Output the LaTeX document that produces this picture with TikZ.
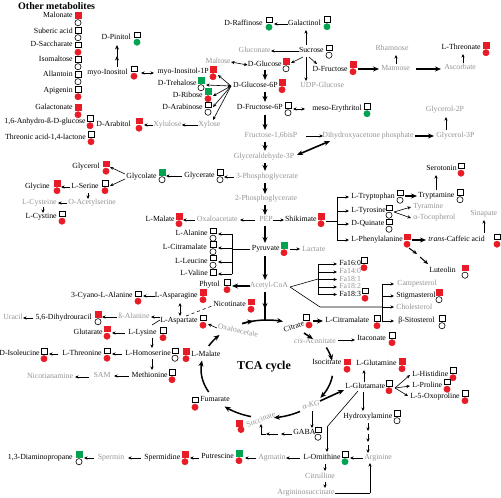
\documentclass[tikz,border=0pt]{standalone}
\usepackage{fontspec}
\setmainfont{Liberation Serif}
\usetikzlibrary{arrows.meta}
\definecolor{mred}{RGB}{232,28,38}
\definecolor{mgreen}{RGB}{0,163,80}
\definecolor{tgrey}{RGB}{150,150,150}
\tikzset{
 lbl/.style={font=\fontsize{7.8}{9}\selectfont, inner sep=0.3pt, outer sep=0pt, text height=5.4pt, text depth=1.6pt},
 gl/.style={lbl, text=tgrey},
 sqm/.style={draw=black, line width=0.6pt, minimum size=5.8pt, inner sep=0pt, outer sep=0pt, fill=white},
 cim/.style={circle, draw=black, line width=0.6pt, minimum size=6.2pt, inner sep=0pt, outer sep=0pt, fill=white},
 mo/.style={},
 mr/.style={fill=mred, draw=mred},
 mg/.style={fill=mgreen, draw=mgreen},
 ar/.style={-{Stealth[length=3.6pt,width=3.2pt]}, line width=0.6pt},
 ab/.style={{Stealth[length=3.6pt,width=3.2pt]}-{Stealth[length=3.6pt,width=3.2pt]}, line width=0.6pt},
 am/.style={-{Stealth[length=4.5pt,width=4pt]}, line width=1pt},
 tk/.style={-{Stealth[length=6pt,width=5pt]}, line width=1.6pt},
 tkb/.style={{Stealth[length=6pt,width=5pt]}-{Stealth[length=6pt,width=5pt]}, line width=1.6pt},
 tk0/.style={line width=1.6pt},
 ln/.style={line width=0.6pt},
 cyca/.style={line width=1.5pt, -{Stealth[length=6pt,width=5pt]}},
}
\newcommand\mtx[5]{\node[lbl,anchor=#4] (#1) at (#2,#3) {#5};}
\newcommand\mgx[5]{\node[gl,anchor=#4] (#1) at (#2,#3) {#5};}
\newcommand\mmk[5]{\node[sqm,#4] (#1s) at (#2,#3-3.7) {}; \node[cim,#5] (#1c) at (#2,#3+3.7) {};}
\begin{document}
\begin{tikzpicture}[x=1pt,y=-1pt]
\useasboundingbox[fill=white] (0,0) rectangle (501,498);

% ---------- Other metabolites ----------
\node[font=\fontsize{10}{12}\selectfont\bfseries, anchor=west, inner sep=0pt] (om) at (18,6.5) {Other metabolites};
\mtx{malonate}{73}{16}{east}{Malonate} \mmk{malonate}{78}{19}{mr}{mo}
\mtx{suberic}{73}{32}{east}{Suberic acid} \mmk{suberic}{78}{34}{mo}{mo}
\mtx{saccharate}{73}{45}{east}{D-Saccharate} \mmk{saccharate}{78}{48.5}{mo}{mr}
\mtx{isomaltose}{73}{60}{east}{Isomaltose} \mmk{isomaltose}{78}{63}{mo}{mo}
\mtx{allantoin}{73}{75}{east}{Allantoin} \mmk{allantoin}{78}{78}{mo}{mo}
\mtx{apigenin}{73}{91}{east}{Apigenin} \mmk{apigenin}{78}{93}{mo}{mr}
\mtx{galactonate}{73}{108}{east}{Galactonate} \mmk{galactonate}{78}{111}{mr}{mr}
\mtx{anhydro}{86}{122}{east}{1,6-Anhydro-ß-D-glucose} \mmk{anhydro}{90}{122}{mo}{mr}
\mtx{threonic}{86}{138}{east}{Threonic acid-1,4-lactone} \mmk{threonic}{91}{138}{mo}{mr}

% ---------- sugars ----------
\mtx{pinitol}{131}{38}{east}{D-Pinitol} \mmk{pinitol}{137}{38.5}{mo}{mg}
\mtx{myoino}{128}{73}{east}{myo-Inositol} \mmk{myoino}{134}{72.5}{mo}{mr}
\mtx{myoip}{209}{72}{east}{myo-Inositol-1P} \mmk{myoip}{213}{73}{mr}{mr}
\mtx{trehalose}{197}{84}{east}{D-Trehalose} \mmk{trehalose}{201}{84}{mg}{mo}
\mtx{ribose}{203}{96}{east}{D-Ribose} \mmk{ribose}{208}{95}{mg}{mr}
\mtx{arabinose}{203}{108}{east}{D-Arabinose} \mmk{arabinose}{208}{108.5}{mo}{mo}
\mtx{arabitol}{131}{125}{east}{D-Arabitol} \mmk{arabitol}{139}{124.5}{mr}{mr}
\mgx{xylulose}{153}{125}{west}{Xylulose}
\mgx{xylose}{198}{125}{west}{Xylose}
\mtx{raffinose}{263}{24}{east}{D-Raffinose} \mmk{raffinose}{269}{23.5}{mo}{mg}
\mtx{galactinol}{321}{24}{east}{Galactinol} \mmk{galactinol}{327}{23}{mo}{mg}
\mtx{sucrose}{324}{51}{east}{Sucrose} \mmk{sucrose}{329}{51.5}{mo}{mo}
\mgx{gluconate}{271}{51}{east}{Gluconate}
\mgx{maltose}{231}{62}{east}{Maltose}
\mtx{glucose}{282}{65}{east}{D-Glucose} \mmk{glucose}{286}{65}{mr}{mo}
\mtx{fructose}{348}{70}{east}{D-Fructose} \mmk{fructose}{353}{68}{mr}{mr}
\mgx{udpglc}{300}{86}{west}{UDP-Glucose}
\mtx{gsixp}{278}{86}{east}{D-Glucose-6P} \mmk{gsixp}{282}{86}{mr}{mr}
\mtx{fsixp}{283}{108}{east}{D-Fructose-6P} \mmk{fsixp}{288}{109}{mo}{mo}
\mtx{erythritol}{362}{109}{east}{meso-Erythritol} \mmk{erythritol}{367}{110}{mo}{mg}
\mgx{rhamnose}{392}{49}{center}{Rhamnose}
\mgx{mannose}{381}{69}{west}{Mannose}
\mgx{ascorbate}{444}{68}{west}{Ascorbate}
\mtx{threonate}{481}{48}{east}{L-Threonate} \mmk{threonate}{486}{49}{mr}{mr}
\mgx{fbp}{271}{136}{center}{Fructose-1,6bisP}
\mgx{dhap}{368}{136}{center}{Dihydroxyacetone phosphate}
\mgx{glythree}{436}{136}{west}{Glycerol-3P}
\mgx{glytwo}{445}{110}{center}{Glycerol-2P}
\mgx{gap}{264}{157}{center}{Glyceraldehyde-3P}
\mgx{pgthree}{267}{177}{center}{3-Phosphoglycerate}
\mgx{pgtwo}{266}{199}{center}{2-Phosphoglycerate}
\mgx{pep}{266}{220}{center}{PEP}

% ---------- serine area ----------
\mtx{glycerate}{215}{176}{east}{Glycerate} \mmk{glycerate}{220}{176}{mo}{mo}
\mtx{glycolate}{157}{177}{east}{Glycolate} \mmk{glycolate}{162}{176}{mg}{mo}
\mtx{glycerol}{100}{167}{east}{Glycerol} \mmk{glycerol}{106}{167.5}{mr}{mr}
\mtx{serine}{99}{187}{east}{L-Serine} \mmk{serine}{105}{187}{mo}{mr}
\mtx{glycine}{50}{187}{east}{Glycine} \mmk{glycine}{57}{187}{mr}{mr}
\mgx{oas}{68}{203}{west}{O-Acetylserine}
\mgx{cysteine}{57}{203}{east}{L-Cysteine}
\mtx{cystine}{57}{217}{east}{L-Cystine} \mmk{cystine}{62}{217.5}{mo}{mr}

% ---------- PEP / pyruvate ----------
\mgx{oaa}{238}{220}{east}{Oxaloacetate}
\mtx{malate}{175}{220}{east}{L-Malate} \mmk{malate}{179}{220}{mr}{mr}
\mtx{shikimate}{317}{220}{east}{Shikimate} \mmk{shikimate}{321}{220}{mr}{mr}
\mtx{pyruvate}{280}{249}{east}{Pyruvate} \mmk{pyruvate}{284}{249}{mg}{mr}
\mgx{lactate}{302}{250}{west}{Lactate}
\mtx{alanine}{208}{234}{east}{L-Alanine} \mmk{alanine}{213}{234.5}{mo}{mo}
\mtx{citramalate}{207}{248}{east}{L-Citramalate} \mmk{citramalate}{213}{248}{mo}{mo}
\mtx{leucine}{208}{262}{east}{L-Leucine} \mmk{leucine}{213}{261.5}{mo}{mo}
\mtx{valine}{208}{274}{east}{L-Valine} \node[sqm] (valines) at (213,272) {};
\mtx{phytol}{220}{285}{east}{Phytol} \mmk{phytol}{227}{286}{mo}{mr}
\mgx{acoa}{269}{286}{center}{Acetyl-CoA}

% ---------- fatty acids, sterols ----------
\mtx{fasixteen}{339}{264}{west}{Fa16:0} \mmk{fasixteen}{364}{264}{mo}{mr}
\mgx{fafourteen}{339}{272}{west}{Fa14:0}
\mgx{faeightone}{339}{279.5}{west}{Fa18:1}
\mgx{faeighttwo}{339}{287}{west}{Fa18:2}
\mtx{faeightthree}{339}{294.5}{west}{Fa18:3} \mmk{faeightthree}{365}{294.5}{mo}{mr}
\mgx{campesterol}{397}{284}{west}{Campesterol}
\mtx{stigmasterol}{396}{296}{west}{Stigmasterol} \mmk{stigmasterol}{439}{296}{mr}{mo}
\mgx{cholesterol}{396}{308}{west}{Cholesterol}
\mtx{sitosterol}{398}{321}{west}{β-Sitosterol} \mmk{sitosterol}{442}{322}{mo}{mo}
\mtx{citramalateb}{325}{321}{west}{L-Citramalate} \mmk{citramalateb}{377}{322}{mo}{mr}

% ---------- aromatic ----------
\mtx{serotonin}{457}{169}{east}{Serotonin} \mmk{serotonin}{461}{169.5}{mo}{mr}
\mtx{trp}{351}{197}{west}{L-Tryptophan} \mmk{trp}{400}{196.5}{mo}{mo}
\mtx{tryptamine}{418}{196}{west}{Tryptamine} \mmk{tryptamine}{460}{196}{mo}{mo}
\mtx{tyr}{351}{211}{west}{L-Tyrosine} \mmk{tyr}{389}{211.5}{mo}{mo}
\mgx{tyramine}{413}{207}{west}{Tyramine}
\mgx{tocopherol}{413}{218}{west}{α-Tocopherol}
\mtx{quinate}{351}{224}{west}{D-Quinate} \mmk{quinate}{389}{225.5}{mo}{mo}
\mtx{phe}{351}{240}{west}{L-Phenylalanine} \mmk{phe}{407}{240.5}{mr}{mr}
\mtx{caffeic}{428}{240}{west}{\textit{trans}-Caffeic acid} \mmk{caffeic}{497}{240.5}{mo}{mr}
\mgx{sinapate}{470}{214}{west}{Sinapate}
\mtx{luteolin}{429}{271}{west}{Luteolin} \mmk{luteolin}{465}{271.5}{mr}{mo}

% ---------- aspartate family ----------
\mtx{cyano}{133}{296}{east}{3-Cyano-L-Alanine} \mmk{cyano}{138}{297.5}{mo}{mr}
\mtx{asparagine}{198}{296}{east}{L-Asparagine} \mmk{asparagine}{203}{296}{mr}{mr}
\mtx{aspartate}{198}{321}{east}{L-Aspartate} \mmk{aspartate}{203}{321.5}{mo}{mr}
\mtx{nicotinate}{213}{305}{west}{Nicotinate} \mmk{nicotinate}{251}{305.5}{mr}{mr}
\mgx{balanine}{118}{317}{west}{ß-Alanine}
\mtx{dhu}{92}{318}{east}{5,6-Dihydrouracil} \mmk{dhu}{98}{318}{mr}{mo}
\mgx{uracil}{3}{318}{west}{Uracil}
\mtx{glutarate}{103}{333}{east}{Glutarate} \mmk{glutarate}{107}{332.5}{mr}{mr}
\mtx{lysine}{128}{333}{west}{L-Lysine} \mmk{lysine}{163}{334}{mo}{mr}
\mtx{homoserine}{125}{354}{west}{L-Homoserine} \mmk{homoserine}{175}{354.5}{mo}{mo}
\mtx{threonine}{102}{354}{east}{L-Threonine} \mmk{threonine}{107}{354.5}{mo}{mr}
\mtx{isoleucine}{40}{354}{east}{D-Isoleucine} \mmk{isoleucine}{44}{355}{mo}{mr}
\mtx{methionine}{168}{376}{east}{Methionine} \mmk{methionine}{172}{376}{mo}{mr}
\mgx{sam}{102}{376}{center}{SAM}
\mgx{nicotianamine}{50}{377}{center}{Nicotianamine}

% ---------- TCA cycle ----------
\node[gl, rotate=-12] (oaab) at (238,331) {Oxaloacetate};
\node[lbl, rotate=20] (citrate) at (294,327) {Citrate};
\node[sqm] (citrates) at (306,317) {}; \node[cim,mr] (citratec) at (309,325) {};
\node[gl] (cisacon) at (315,342) {\textit{cis}-Aconitate};
\mtx{itaconate}{357}{339}{west}{Itaconate} \mmk{itaconate}{392}{339}{mo}{mr}
\mtx{isocitrate}{312}{363}{west}{Isocitrate} \mmk{isocitrate}{347}{365.5}{mr}{mr}
\mtx{glutamine}{356}{364}{west}{L-Glutamine} \mmk{glutamine}{402}{365}{mr}{mr}
\mtx{glutamate}{345}{387}{west}{L-Glutamate} \mmk{glutamate}{389}{387}{mo}{mr}
\mtx{histidine}{412}{375}{west}{L-Histidine} \mmk{histidine}{453}{374}{mo}{mr}
\mtx{proline}{412}{386}{west}{L-Proline} \mmk{proline}{447}{385.5}{mo}{mr}
\mtx{oxoproline}{410}{397}{west}{L-5-Oxoproline} \mmk{oxoproline}{465}{397}{mo}{mr}
\node[gl, rotate=15] (akg) at (311,405) {α-\textit{KG}};
\mtx{hydroxylamine}{343}{417}{west}{Hydroxylamine} \mmk{hydroxylamine}{397}{417}{mo}{mo}
\node[gl, rotate=22] (succinate) at (261,420) {Succinate};
\node[sqm,mr] (succinates) at (239,423) {}; \node[cim,mr] (succinatec) at (241,429.5) {};
\mtx{fumarate}{200}{400}{west}{Fumarate} \mmk{fumarate}{195}{403.5}{mo}{mr}
\mtx{malateb}{191}{355}{west}{L-Malate} \mmk{malateb}{186}{355}{mr}{mr}
\mtx{gaba}{293}{433}{west}{GABA} \mmk{gaba}{318}{433.5}{mo}{mo}
\node[font=\fontsize{12}{14}\selectfont\bfseries, inner sep=0pt] (tca) at (264,367) {TCA cycle};

% ---------- polyamines ----------
\mtx{dap}{73}{458}{east}{1,3-Diaminopropane} \mmk{dap}{79}{458}{mg}{mo}
\mgx{spermin}{111}{458}{center}{Spermin}
\mtx{spermidine}{144}{458}{west}{Spermidine} \mmk{spermidine}{185}{458}{mr}{mr}
\mtx{putrescine}{201}{457}{west}{Putrescine} \mmk{putrescine}{239}{457}{mg}{mr}
\mgx{agmatin}{258}{458}{west}{Agmatin}
\mtx{ornithine}{303}{458}{west}{L-Ornithine} \mmk{ornithine}{345}{458}{mo}{mg}
\mgx{arginine}{364}{458}{west}{Arginine}
\mgx{citrulline}{320}{477}{center}{Citrulline}
\mgx{argsucc}{306}{493}{center}{Argininosuccinate}

% =========== connectors ===========
\draw[am] (117,67) -- (117,56);
\draw[am] (117,57) -- (117,45);
\draw[ab] (141,73) -- (154,73);
\coordinate (fan) at (231,86);
\draw[ar] (fan) -- (218,75);
\draw[ab] (fan) -- (206,85);
\draw[ar] (fan) -- (213,96);
\draw[ar] (fan) -- (213,107);
\draw[ar] (fan) -- (213,120);
\draw[ar] (xylulose.west) -- (144,125);
\draw[ar] (xylose.west) -- (xylulose.east);
\draw[ar] (galactinol.west) -- (274,24);
\draw[ar] (306,45) -- (306,30);
\draw[ar] (sucrose.west) -- (gluconate.east);
\draw[ab] (maltose.east) -- (glucose.west);
\draw[ar] (303,57) -- (291,63);
\draw[ar] (306,57) -- (306,81);
\draw[ar] (309,57) -- (317,64);
\draw[tk] (358,69) -- (379,69);
\draw[ar] (396,64) -- (396,55);
\draw[tk] (416,69) -- (441,69);
\draw[ar] (463,63) -- (463,54);
\draw[tk] (265,70) -- (265,80);
\draw[tk] (265,92) -- (265,102);
\draw[ab] (293,109) -- (305,109);
\draw[tk] (265,115) -- (265,130);
\draw[ar] (306,136) -- (323,136);
\draw[tk] (415,136) -- (434,136);
\draw[ar] (446,130) -- (446,117);
\draw[tk] (265,142) -- (265,151);
\draw[tkb] (330,141) -- (297,155);
\draw[tk] (265,163) -- (265,171);
\draw[ar] (234,177) -- (224,177);
\draw[ar] (182,176) -- (166,176);
\draw[ar] (125,174) -- (110,167);
\draw[ar] (125,179) -- (110,186);
\draw[ar] (70,187) -- (61,187);
\draw[ar] (88,193) -- (88,199);
\draw[ar] (67,203) -- (58,203);
\draw[ar] (43,207) -- (43,213);
\draw[tk] (265,183) -- (265,194);
\draw[tk] (265,205) -- (265,215);
\draw[ar] (255,220) -- (240,220);
\draw[ar] (195,220) -- (183,220);
\draw[ar] (273,220) -- (284,220);
\draw[tk] (265,226) -- (265,243);
\draw[ar] (290,249) -- (300,249);
\draw[ln] (250,249) -- (232,249);
\draw[ln] (232,234) -- (232,274);
\foreach \y in {234,248,262,274} \draw[ar] (232,\y) -- (218,\y);
\draw[tk] (265,256) -- (265,280);
\draw[tk] (250,286) -- (232,286);
\draw[ln] (290,287) -- (318,279);
\draw[ln] (318,264) -- (318,294.5);
\foreach \y in {264,272,279.5,287,294.5} \draw[ar] (318,\y) -- (337,\y);
\draw[ln] (290,287) -- (320,307) -- (382,307);
\draw[ar] (382,307) -- (394,307);
\draw[ln] (382,284) -- (382,321);
\foreach \y in {284,296,321} \draw[ar] (382,\y) -- (394,\y);

% TCA
\draw[tk0] (265,292) -- (265,321);
\draw[tk] (265,292) -- (265,309);
\draw[cyca] plot[domain=112:76, samples=20] ({267+66*cos(\x)},{369-49*sin(\x)});
\draw[cyca] plot[domain=112:102, samples=6] ({267+66*cos(\x)},{369-49*sin(\x)});
\draw[tk] (304,333) -- (313,339);
\draw[cyca] plot[domain=26:10, samples=10] ({267+66*cos(\x)},{369-49*sin(\x)});
\draw[cyca] plot[domain=-8:-36, samples=12] ({267+66*cos(\x)},{369-49*sin(\x)});
\draw[cyca] plot[domain=-60:-84, samples=12] ({267+66*cos(\x)},{369-49*sin(\x)});
\draw[cyca] plot[domain=-104:-130, samples=12] ({267+66*cos(\x)},{369-49*sin(\x)});
\draw[cyca] plot[domain=-152:-190, samples=14] ({267+66*cos(\x)},{369-49*sin(\x)});
\draw[cyca] plot[domain=152:136, samples=8] ({267+66*cos(\x)},{369-49*sin(\x)});
\draw[tk] (313,321) -- (323,321);
\draw[ar] (338,340) -- (355,340);
\draw[tk] (320,401) -- (344,390);
\draw[ar] (312,411) -- (312,428);
\draw[ar] (292,434) -- (281,434);
\draw[ar] (278,434) -- (266,434);
\draw[ln] (266,434) -- (261,434);
\draw[ar] (261,434) -- (261,424);
\draw[ar] (364,382) -- (364,370);
\draw[ar] (395,388) -- (410,375);
\draw[ar] (395,388) -- (410,386);
\draw[ar] (395,388) -- (408,396);
\draw[ar] (363,392) -- (363,411);
\draw[ar] (368,423) -- (368,431);
\draw[ar] (368,434) -- (368,442);
\draw[ar] (368,445) -- (368,453);
\draw[ln] (358,391) -- (327,427);
\draw[ar] (327,427) -- (327,452);

% polyamines
\draw[ar] (363,458) -- (350,458);
\draw[ar] (300,458) -- (286,458);
\draw[ar] (256,458) -- (245,458);
\draw[ar] (199,458) -- (190,458);
\draw[ar] (141,458) -- (128,458);
\draw[ar] (94,458) -- (84,458);
\draw[ar] (325,464) -- (325,471);
\draw[ar] (325,482) -- (325,488);
\draw[ln] (argsucc.east) -- (370,493);
\draw[ar] (370,493) -- (370,463);

% aromatic
\draw[ln] (326,221) -- (337,221);
\draw[ln] (337,197) -- (337,240);
\foreach \y in {197,211,224,240} \draw[ar] (337,\y) -- (349,\y);
\draw[tk] (405,196) -- (417,196);
\draw[ar] (436,190) -- (436,175);
\draw[ar] (394,212) -- (411,207);
\draw[ar] (394,212) -- (411,218);
\draw[tk] (412,240) -- (426,240);
\draw[ar] (484,233) -- (484,220);
\draw[am] (409,248) -- (417,254);
\draw[am] (420,257) -- (428,264);

% aspartate family
\draw[ar] (155,296) -- (143,296);
\draw[ab] (180,303) -- (180,316);
\draw[ln, dashed] (186,316) -- (212,306);
\draw[ar] (217,328) -- (208,324);
\draw[ar] (160,317) -- (151,317);
\draw[ln] (160,320) -- (152,325);
\draw[ar] (152,338) -- (152,348);
\draw[ar] (152,359) -- (152,370);
\draw[ar] (117,317) -- (102,317);
\draw[ar] (33,318) -- (23,318);
\draw[ar] (125,333) -- (112,333);
\draw[ar] (122,354) -- (112,354);
\draw[ar] (58,354) -- (49,354);
\draw[ar] (129,376) -- (114,376);
\draw[ar] (89,377) -- (75,377);
\end{tikzpicture}
\end{document}
